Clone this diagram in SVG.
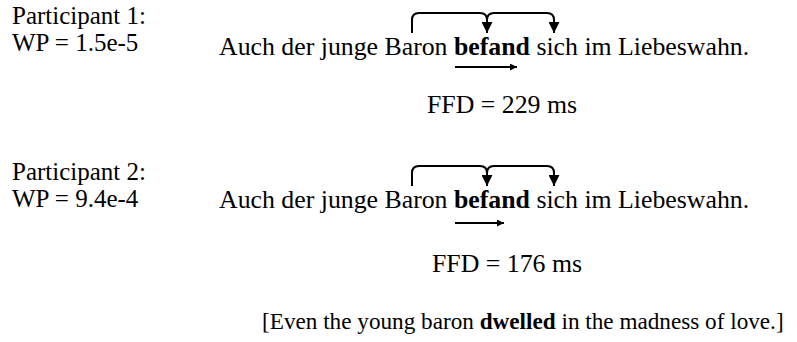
<svg xmlns="http://www.w3.org/2000/svg" width="797" height="342" viewBox="0 0 797 342">
<style>
text{font-family:"Liberation Serif","Times New Roman",serif;font-size:25.8px;fill:#000}
.l{font-size:25px}
.t{font-size:23.2px}
.b{font-weight:bold}
.c{fill:none;stroke:#000;stroke-width:2}
</style>
<defs>
<marker id="ah" viewBox="0 0 10 10" refX="10" refY="5" markerWidth="11" markerHeight="11" markerUnits="userSpaceOnUse" orient="auto"><path d="M0,0L10,5L0,10z" fill="#000"/></marker>
<marker id="sh" viewBox="0 0 10 10" refX="10" refY="5" markerWidth="10" markerHeight="7" markerUnits="userSpaceOnUse" orient="auto"><path d="M0,0L10,5L0,10z" fill="#000"/></marker>
</defs>
<g id="p1">
<text class="l" x="12" y="24">Participant 1:</text>
<text class="l" x="12" y="51">WP = 1.5e-5</text>
<text x="219" y="55">Auch der junge Baron <tspan class="b">befand</tspan> sich im Liebeswahn.</text>
<text x="427" y="113">FFD = 229 ms</text>
</g>
<g id="p2">
<text class="l" x="12" y="180">Participant 2:</text>
<text class="l" x="12" y="207">WP = 9.4e-4</text>
<text x="219" y="208">Auch der junge Baron <tspan class="b">befand</tspan> sich im Liebeswahn.</text>
<text x="432" y="272">FFD = 176 ms</text>
</g>
<g id="translation">
<text class="t" x="262" y="329">[Even the young baron <tspan class="b">dwelled</tspan> in the madness of love.]</text>
</g>
<g id="connectors">
<path class="c" d="M412,33V20Q412,13 419,13H480Q487,13 487,20V33" marker-end="url(#ah)"/>
<path class="c" d="M487,20Q487,13 494,13H547Q554,13 554,20V33" marker-end="url(#ah)"/>
<path class="c" d="M455,67H517" marker-end="url(#sh)"/>
<path class="c" d="M412,186V173Q412,166 419,166H480Q487,166 487,173V186" marker-end="url(#ah)"/>
<path class="c" d="M487,173Q487,166 494,166H547Q554,166 554,173V186" marker-end="url(#ah)"/>
<path class="c" d="M455,223H504" marker-end="url(#sh)"/>
</g>
</svg>
